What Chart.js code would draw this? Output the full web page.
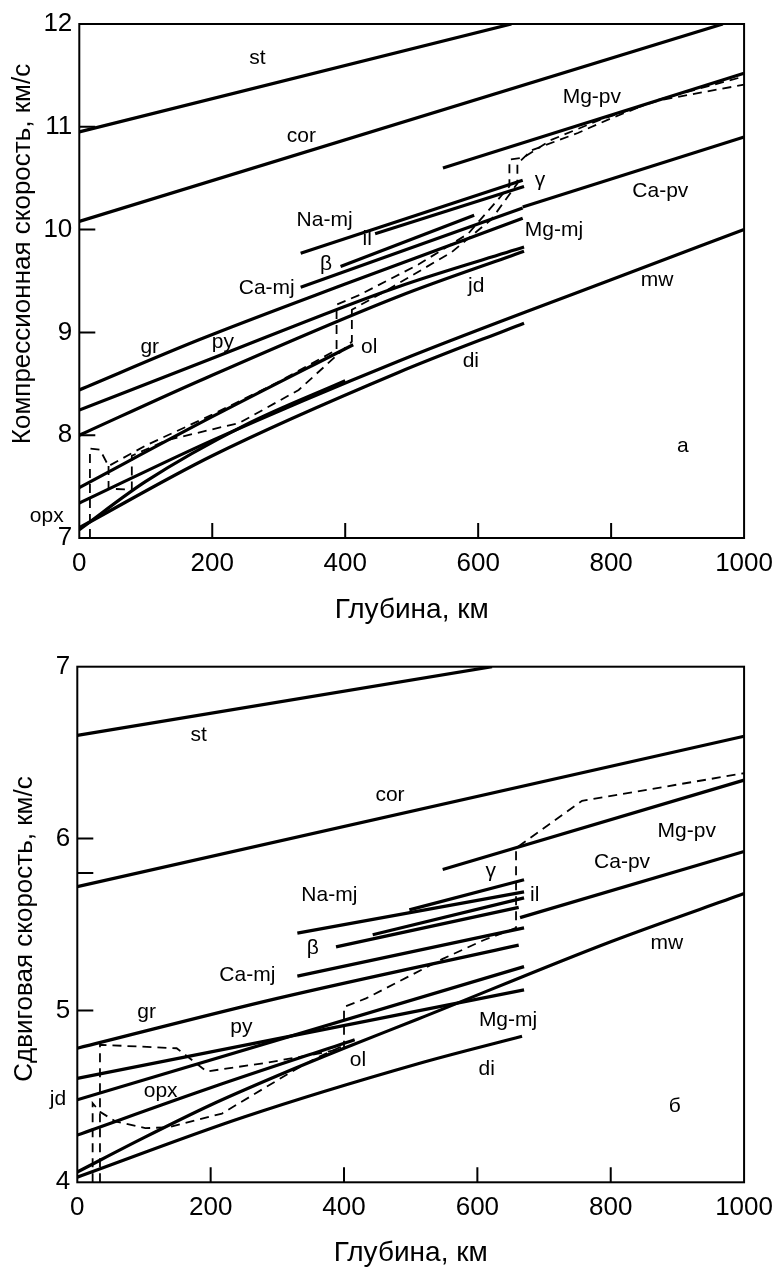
<!DOCTYPE html>
<html><head><meta charset="utf-8">
<script src="https://cdn.jsdelivr.net/npm/chart.js@4.4.1/dist/chart.umd.min.js"></script>
<style>
html,body{margin:0;padding:0;background:#fff;}
#w1{position:absolute;left:0;top:0;width:783px;height:640px;}
#w2{position:absolute;left:0;top:640px;width:783px;height:631px;}
</style></head><body>
<div id="w1"><canvas id="c1" width="783" height="640"></canvas></div>
<div id="w2"><canvas id="c2" width="783" height="631"></canvas></div>
<script>
// ---------- tick values ----------
const depthTicks = [0,200,400,600,800,1000];
const pTicks = [7,8,9,10,11,12];
const sTicks = [4,5,6,7];
const sExtraTicks = [5.8];

// ---------- (a) compressional velocity, [depth km, Vp km/s] ----------
const P_st    = [[0,10.95],[650,12.0]];
const P_cor   = [[0,10.08],[968,12.0]];
const P_MgPv  = [[547,10.60],[1000,11.52]];
const P_CaPv  = [[667,10.22],[1000,10.90]];
const P_NaMj  = [[333,9.77],[667,10.48]];
const P_il    = [[445,9.96],[669,10.42]];
const P_beta  = [[393,9.64],[594,10.14]];
const P_CaMj  = [[333,9.44],[667,10.21]];
const P_gr    = [[0,8.44],[181,8.93],[400,9.47],[667,10.11]];
const P_py    = [[0,8.245],[181,8.70],[480,9.445],[669,9.83]];
const P_jd    = [[0,8.00],[181,8.53],[480,9.35],[669,9.79]];
const P_ol    = [[0,7.49],[200,8.18],[412,8.88]];
const P_mw    = [[0,7.34],[200,7.95],[480,8.72],[799,9.51],[1000,10.0]];
const P_di    = [[0,7.10],[200,7.80],[480,8.61],[669,9.09]];
const P_opx   = [[0,7.08],[100,7.55],[250,8.10],[400,8.53]];
const P_model1 = [[16,7.0],[16,7.87],[31,7.86],[44,7.70],[100,7.90],[200,8.20],[300,8.52],[387,8.83],[387,9.27],[420,9.36],[510,9.66],[585,9.96],[647,10.42],[647,10.68],[668,10.70],[709,10.87],[784,11.07],[874,11.26],[1000,11.41]];
const P_model2 = [[44,7.70],[44,7.48],[79,7.47],[79,7.80],[131,7.95],[241,8.12],[330,8.44],[410,8.91],[410,9.22],[460,9.40],[560,9.78],[620,10.10],[659,10.45],[659,10.64],[680,10.77],[750,10.94],[799,11.08],[869,11.26],[1000,11.49]];

// ---------- (б) shear velocity, [depth km, Vs km/s] ----------
const S_st    = [[0,6.60],[622,7.0]];
const S_cor   = [[0,5.72],[1000,6.595]];
const S_MgPv  = [[548,5.82],[1000,6.34]];
const S_CaPv  = [[664,5.54],[1000,5.925]];
const S_NaMj  = [[330,5.45],[670,5.69]];
const S_gamma = [[498,5.585],[670,5.76]];
const S_il    = [[443,5.44],[670,5.655]];
const S_beta  = [[388,5.37],[662,5.60]];
const S_CaMj  = [[330,5.20],[670,5.48]];
const S_gr    = [[0,4.78],[300,5.07],[662,5.38]];
const S_py    = [[0,4.605],[670,5.12]];
const S_jd    = [[0,4.48],[670,5.255]];
const S_ol    = [[0,4.275],[200,4.55],[416,4.83]];
const S_mw    = [[0,4.06],[100,4.26],[200,4.45],[300,4.62],[400,4.78],[511,4.95],[800,5.40],[1000,5.68]];
const S_di    = [[0,4.03],[250,4.38],[511,4.69],[667,4.85]];
const S_model1 = [[34,4.0],[34,4.80],[149,4.78],[194,4.645],[283,4.695],[363,4.75],[400,4.78],[400,5.02],[433,5.07],[548,5.30],[610,5.41],[658,5.48],[658,5.945],[757,6.22],[1000,6.38]];
const S_model2 = [[23,4.0],[23,4.46],[34,4.41],[57,4.355],[102,4.315],[137,4.32],[217,4.40],[322,4.645],[362,4.73],[402,4.80]];

// ---------- label texts with anchor [depth, velocity] ----------
const pLabels = [['st',268,11.67],['cor',334,10.91],['Mg-pv',771,11.285],['Ca-pv',874,10.375],['γ',693,10.48],
  ['Na-mj',369,10.09],['il',433,9.91],['β',371,9.665],['Ca-mj',282,9.43],['Mg-mj',714,9.99],['jd',597,9.45],
  ['mw',869,9.51],['gr',106,8.86],['py',216,8.90],['ol',436,8.86],['di',589,8.72],['opx',-49,7.21],['а',908,7.89]];
const sLabels = [['st',182,6.60],['cor',469,6.25],['Na-mj',378,5.67],['Mg-pv',914,6.04],['Ca-pv',817,5.865],
  ['γ',620,5.81],['il',686,5.67],['β',353,5.36],['Ca-mj',255,5.205],['gr',104,4.99],['py',246,4.90],
  ['ol',421,4.71],['opx',125,4.53],['jd',-29,4.485],['Mg-mj',646,4.945],['di',614,4.66],['mw',884,5.39],['б',896,4.445]];

const FONT = "'Liberation Sans', Arial, Helvetica, sans-serif";

function ds(name, pts, dashed){
  return {
    label: name,
    data: pts.map(p => ({x:p[0], y:p[1]})),
    showLine: true,
    borderColor: '#000',
    borderWidth: dashed ? 1.8 : 3.2,
    borderDash: dashed ? [9,6] : [],
    pointRadius: 0,
    fill: false,
    tension: 0,
    cubicInterpolationMode: (!dashed && pts.length > 2) ? 'monotone' : 'default'
  };
}

const decoPlugin = {
  id: 'deco',
  afterDraw(chart, args, opts){
    const {ctx, chartArea:{left,top,right,bottom}, scales:{x,y}} = chart;
    ctx.save();
    ctx.strokeStyle = '#000';
    ctx.lineWidth = 2;
    ctx.strokeRect(left, top, right-left, bottom-top);
    ctx.beginPath();
    depthTicks.forEach(v => {
      if (v <= x.min || v >= x.max) return;
      const px = x.getPixelForValue(v);
      ctx.moveTo(px, bottom); ctx.lineTo(px, bottom-15);
    });
    opts.yTicks.concat(opts.yExtra).forEach(v => {
      if (v <= y.min || v >= y.max) return;
      const py = y.getPixelForValue(v);
      ctx.moveTo(left, py); ctx.lineTo(left+16, py);
    });
    ctx.stroke();
    ctx.fillStyle = '#000';
    ctx.font = '21px ' + FONT;
    ctx.textAlign = 'center';
    ctx.textBaseline = 'middle';
    opts.labels.forEach(l => {
      ctx.fillText(l[0], x.getPixelForValue(l[1]), y.getPixelForValue(l[2]));
    });
    ctx.translate(opts.titleX, opts.titleY);
    ctx.rotate(-Math.PI/2);
    ctx.font = '26px ' + FONT;
    ctx.fillText(opts.yTitle, 0, 0);
    ctx.restore();
  }
};

function makeChart(id, series, yMin, yMax, yTicks, yExtra, labels, yTitle, geo){
  return new Chart(document.getElementById(id), {
    type: 'scatter',
    data: { datasets: series },
    plugins: [decoPlugin],
    options: {
      responsive: false, animation: false, devicePixelRatio: 1,
      layout: { padding: { left: 0, top: geo.top, right: geo.right, bottom: 0 } },
      plugins: {
        legend: { display: false }, tooltip: { enabled: false },
        deco: { labels, yTitle, yTicks, yExtra, titleX: geo.titleX, titleY: geo.titleY }
      },
      scales: {
        x: {
          type: 'linear', position: 'bottom', min: 0, max: 1000,
          afterBuildTicks: s => { s.ticks = depthTicks.map(v => ({value: v})); },
          afterFit: s => { s.height = geo.xh; },
          grid: { display: false, drawTicks: false }, border: { display: false },
          ticks: { color: '#000', font: { family: FONT, size: 26 }, padding: geo.xpad, maxRotation: 0, autoSkip: false,
                   callback: v => String(v) },
          title: { display: true, text: 'Глубина, км', color: '#000', font: { family: FONT, size: 28 }, padding: { top: 0, bottom: geo.xtpad } }
        },
        y: {
          type: 'linear', min: yMin, max: yMax,
          afterBuildTicks: s => { s.ticks = yTicks.map(v => ({value: v})); },
          afterFit: s => { s.width = geo.yw; },
          grid: { display: false, drawTicks: false }, border: { display: false },
          ticks: { color: '#000', font: { family: FONT, size: 26 }, padding: 7, autoSkip: false,
                   callback: v => String(v) }
        }
      }
    }
  });
}

const pSeries = [
  ds('st',P_st),ds('cor',P_cor),ds('Mg-pv',P_MgPv),ds('Ca-pv',P_CaPv),ds('Na-mj',P_NaMj),ds('il',P_il),
  ds('β',P_beta),ds('Ca-mj',P_CaMj),ds('gr',P_gr),ds('py',P_py),ds('jd',P_jd),ds('ol',P_ol),
  ds('mw',P_mw),ds('di',P_di),ds('opx',P_opx),ds('model 1',P_model1,true),ds('model 2',P_model2,true)
];
const sSeries = [
  ds('st',S_st),ds('cor',S_cor),ds('Mg-pv',S_MgPv),ds('Ca-pv',S_CaPv),ds('Na-mj',S_NaMj),ds('γ',S_gamma),
  ds('il',S_il),ds('β',S_beta),ds('Ca-mj',S_CaMj),ds('gr',S_gr),ds('py',S_py),ds('jd',S_jd),
  ds('ol',S_ol),ds('mw',S_mw),ds('di',S_di),ds('model 1',S_model1,true),ds('model 2',S_model2,true)
];

makeChart('c1', pSeries, 7, 12, pTicks, [], pLabels, 'Компрессионная скорость, км/с',
  {top: 24, right: 35.3, xh: 102, yw: 79.3, xpad: 10, xtpad: 13, titleX: 23, titleY: 254});
makeChart('c2', sSeries, 4, 7, sTicks, sExtraTicks, sLabels, 'Сдвиговая скорость, км/с',
  {top: 26.7, right: 37.3, xh: 88.7, yw: 77.3, xpad: 10, xtpad: 1, titleX: 25, titleY: 289});
</script>
</body></html>
